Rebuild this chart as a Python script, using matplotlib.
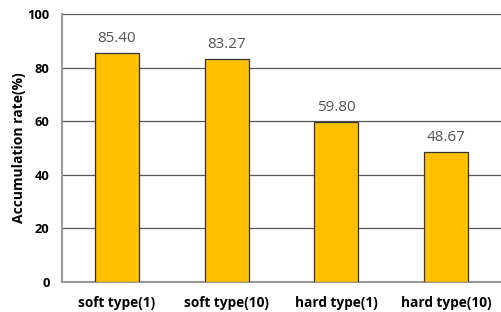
import matplotlib.pyplot as plt

categories = ['soft type(1)', 'soft type(10)', 'hard type(1)', 'hard type(10)']
rates = [85.40, 83.27, 59.80, 48.67]

plt.rcParams['font.family'] = ['Open Sans', 'DejaVu Sans']

fig = plt.figure(figsize=(5.01, 3.12), dpi=100)
ax = fig.add_axes([0.124, 0.096, 0.876, 0.859])

x = range(len(categories))
ax.bar(x, rates, width=0.4, color='#FFC000', edgecolor='#333333', linewidth=0.9, zorder=3)
for i, v in zip(x, rates):
    ax.text(i, v + 2.6, '%.2f' % v, ha='center', va='bottom', fontsize=11, color='#555555')

ax.set_xlim(-0.5, 3.5)
ax.set_ylim(0, 100)
ax.set_yticks([0, 20, 40, 60, 80, 100])
ax.set_xticks(list(x))
ax.set_xticklabels(categories, fontsize=9.8, fontweight='bold')
for lab in ax.get_yticklabels():
    lab.set_fontweight('bold')
    lab.set_fontsize(9.3)
ax.tick_params(length=0, pad=9)
ax.tick_params(axis='x', pad=10)
ax.grid(axis='y', color='#555555', linewidth=0.9, zorder=0)
ax.set_ylabel('Accumulation rate(%)', fontsize=10, fontweight='bold', labelpad=1)

for s in ['top', 'right']:
    ax.spines[s].set_visible(False)
ax.spines['left'].set_color('#999999')
ax.spines['bottom'].set_color('#999999')
ax.spines['left'].set_linewidth(1.5)
ax.spines['bottom'].set_linewidth(1.5)

fig.savefig('out.png', dpi=100)
